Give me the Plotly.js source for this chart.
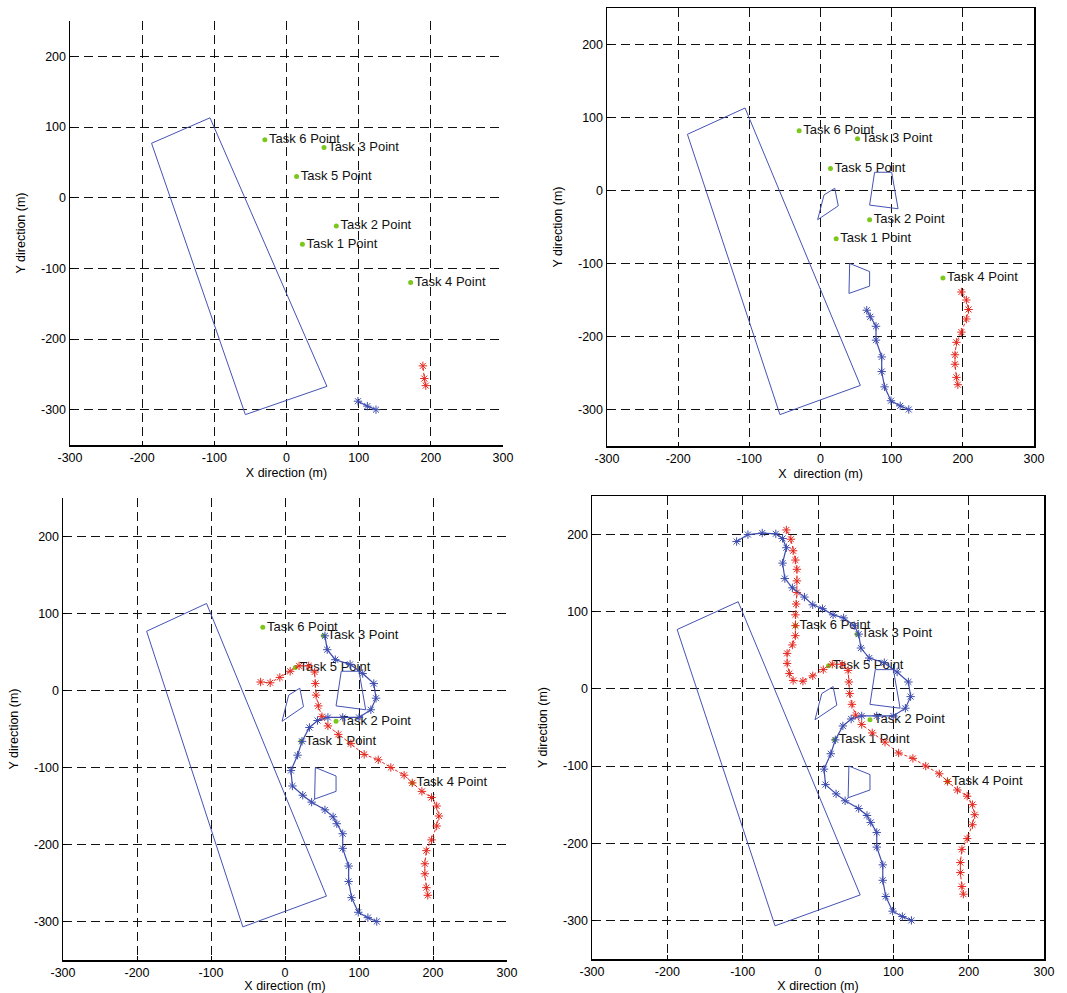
<!DOCTYPE html>
<html>
<head>
<meta charset="utf-8">
<script src="https://cdn.plot.ly/plotly-3.0.1.min.js"></script>
<style>html,body{margin:0;padding:0;background:#fff;}#chart{width:1067px;height:993px;}</style>
</head>
<body>
<div id="chart"></div>
<script>
// ---- data ----
const tickVals = [-300, -200, -100, 0, 100, 200, 300];
const tickText = ['-300', '-200', '-100', '0', '100', '200', '300'];
const yTickVals = [-300, -200, -100, 0, 100, 200];
const yTickText = ['-300', '-200', '-100', '0', '100', '200'];

const taskX = [22, 69, 52, 172, 14, -30];
const taskY = [-66, -40, 71, -120, 30, 82];
const taskLabels = ['Task 1 Point', 'Task 2 Point', 'Task 3 Point', 'Task 4 Point', 'Task 5 Point', 'Task 6 Point'];

const rectX = [-187, -106, 56, -57];
const rectY = [77, 113, -267, -307];
const quad1X = [-4, 5, 20, 25];
const quad1Y = [-40, -6, 3, -21];
const quad2X = [76, 100, 109, 69];
const quad2Y = [25, 25, -25, -20];
const quad3X = [41, 69, 69, 40];
const quad3Y = [-100, -111, -131, -141];

const blueX = [124, 112, 99, 90, 86, 86, 78, 78, 70, 65, 54, 36, 24, 10, 8, 17, 23, 33, 44, 58, 78, 100, 116, 123, 120, 105, 88, 68, 57, 54, 48, 34, 20, 6, -7, -18, -34, -44, -47, -42, -47, -56, -74, -93, -108];
const blueY = [-300, -295, -288, -269, -248, -228, -205, -186, -173, -164, -155, -145, -136, -124, -104, -84, -66, -48, -39, -35, -35, -35, -25, -10, 9, 22, 34, 40, 53, 71, 82, 92, 96, 104, 109, 119, 131, 143, 163, 183, 195, 201, 202, 200, 191];
const redX = [193, 191, 189, 189, 191, 198, 205, 208, 205, 198, 185, 172, 161, 143, 126, 107, 89, 72, 58, 50, 45, 42, 41, 40, 32, 19, 7, -7, -20, -33, -38, -41, -41, -34, -30, -30, -30, -29, -28, -28, -28, -30, -33, -36, -42];
const redY = [-266, -256, -238, -225, -208, -194, -176, -163, -150, -139, -131, -120, -110, -100, -90, -83, -69, -57, -46, -34, -20, -6, 9, 24, 32, 32, 25, 17, 10, 11, 20, 33, 46, 57, 69, 82, 96, 110, 125, 140, 155, 167, 179, 194, 206];

const bluePointsShown = [3, 10, 30, 45];
const redPointsShown = [3, 10, 30, 45];
const showSmallObstacles = [false, true, true, true];
const xTitles = ['X direction (m)', 'X\u00a0 direction (m)', 'X direction (m)', 'X direction (m)'];
const boxed = [false, true, false, true];

// ---- layout geometry (pixels) ----
const W = 1067, H = 993;
const panelsPx = [
  {x0: 70, x1: 503, y0: 21, y1: 445},
  {x0: 607, x1: 1034, y0: 8, y1: 446},
  {x0: 63, x1: 507, y0: 498, y1: 960},
  {x0: 592, x1: 1044, y0: 496, y1: 959}
];

const obstacleColor = '#4553b3';
const blueColor = '#3d4cae';
const redColor = '#e5281f';
const greenColor = '#7cc71c';
const font = '"Liberation Sans", Arial, Helvetica, sans-serif';

function closed(a) { return a.concat([a[0]]); }

const traces = [];
const layout = {
  width: W, height: H,
  margin: {l: 0, r: 0, t: 0, b: 0},
  paper_bgcolor: '#fff', plot_bgcolor: '#fff',
  showlegend: false,
  font: {family: font, size: 13, color: '#000'}
};

for (let i = 0; i < 4; i++) {
  const s = i === 0 ? '' : String(i + 1);
  const xa = 'x' + s, ya = 'y' + s;
  const p = panelsPx[i];
  const common = {
    showgrid: true, gridcolor: '#111', gridwidth: 1, griddash: '9px,5px',
    zeroline: false, showline: true, linecolor: '#000', linewidth: 1.5,
    mirror: boxed[i] ? true : false,
    ticks: 'inside', ticklen: 4, tickcolor: '#000',
    tickfont: {family: font, size: 12.5, color: '#000'}
  };
  layout['xaxis' + s] = Object.assign({}, common, {
    domain: [p.x0 / W, p.x1 / W], anchor: ya, range: [-300, 300],
    tickvals: tickVals, ticktext: tickText,
    title: {text: xTitles[i], font: {family: font, size: 12.5, color: '#000'}, standoff: 4}
  });
  layout['yaxis' + s] = Object.assign({}, common, {
    domain: [1 - p.y1 / H, 1 - p.y0 / H], anchor: xa, range: [-350, 250],
    tickvals: yTickVals, ticktext: yTickText,
    title: {text: 'Y direction (m)', font: {family: font, size: 12.5, color: '#000'}, standoff: 12}
  });

  // obstacles
  const polys = [[rectX, rectY]];
  if (showSmallObstacles[i]) polys.push([quad1X, quad1Y], [quad2X, quad2Y], [quad3X, quad3Y]);
  polys.forEach(pg => traces.push({
    type: 'scatter', mode: 'lines', xaxis: xa, yaxis: ya,
    x: closed(pg[0]), y: closed(pg[1]),
    line: {color: obstacleColor, width: 1}, hoverinfo: 'skip'
  }));

  // task points
  traces.push({
    type: 'scatter', mode: 'markers+text', xaxis: xa, yaxis: ya,
    x: taskX, y: taskY, text: taskLabels, textposition: 'middle right',
    textfont: {family: font, size: 13, color: '#111'},
    marker: {color: greenColor, size: 5}, cliponaxis: false
  });

  // trajectories
  const nb = bluePointsShown[i], nr = redPointsShown[i];
  traces.push({
    type: 'scatter', mode: 'lines+markers', xaxis: xa, yaxis: ya,
    x: redX.slice(0, nr), y: redY.slice(0, nr),
    line: {color: redColor, width: 1, dash: '3px,2px'},
    marker: {symbol: 'asterisk-open', size: 7, color: redColor, line: {color: redColor, width: 1}}
  });
  traces.push({
    type: 'scatter', mode: 'lines+markers', xaxis: xa, yaxis: ya,
    x: blueX.slice(0, nb), y: blueY.slice(0, nb),
    line: {color: blueColor, width: 1.2},
    marker: {symbol: 'asterisk-open', size: 7, color: blueColor, line: {color: blueColor, width: 1}}
  });
}

Plotly.newPlot('chart', traces, layout, {staticPlot: true, displayModeBar: false});
</script>
</body>
</html>
